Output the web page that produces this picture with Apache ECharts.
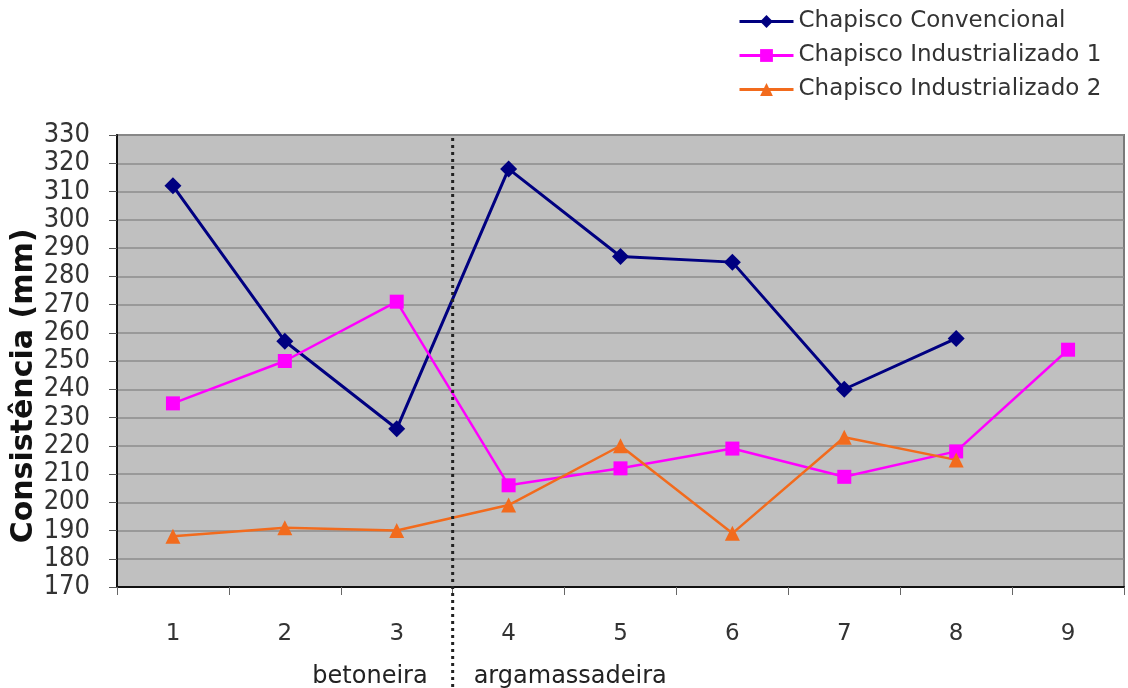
<!DOCTYPE html>
<html>
<head>
<meta charset="utf-8">
<script src="https://cdn.jsdelivr.net/npm/echarts@6/dist/echarts.min.js"></script>
<style>
  html, body { margin: 0; padding: 0; background: #fff; }
  #chart { width: 1128px; height: 688px; }
</style>
</head>
<body>
<div id="chart"></div>
<script>
// Ensaios 1..9; primeiros três na betoneira, restantes na argamassadeira
const categories = ['1', '2', '3', '4', '5', '6', '7', '8', '9'];
const convencional = [312, 257, 226, 318, 287, 285, 240, 258, null];
const industrializado1 = [235, 250, 271, 206, 212, 219, 209, 218, 254];
const industrializado2 = [188, 191, 190, 199, 220, 189, 223, 215, null];
const seriesNames = ['Chapisco Convencional', 'Chapisco Industrializado 1', 'Chapisco Industrializado 2'];
const yMin = 170, yMax = 330, yStep = 10;
const yTitle = 'Consistência (mm)';
const groupLabels = ['betoneira', 'argamassadeira'];

const chart = echarts.init(document.getElementById('chart'));
const sans = 'DejaVu Sans';

const option = {
  animation: false,
  backgroundColor: '#ffffff',
  legend: {
    orient: 'vertical',
    left: 733,
    top: 4,
    itemWidth: 54,
    itemHeight: 16,
    itemGap: 9,
    lineStyle: { width: 3 },
    textStyle: { fontFamily: sans, fontSize: 23, lineHeight: 25, color: '#333' },
    data: seriesNames
  },
  grid: {
    left: 117, right: 4, top: 135, bottom: 101,
    show: true,
    backgroundColor: '#c0c0c0',
    borderColor: '#7a7a7a',
    borderWidth: 2
  },
  xAxis: {
    type: 'category',
    data: categories,
    boundaryGap: true,
    axisLine: { lineStyle: { color: '#111', width: 2 } },
    axisTick: { show: true, inside: false, length: 8, lineStyle: { color: '#666', width: 1 } },
    axisLabel: { margin: 36, fontFamily: sans, fontSize: 23, color: '#333' },
    splitLine: { show: false }
  },
  yAxis: {
    type: 'value',
    min: yMin, max: yMax, interval: yStep,
    axisLine: { show: true, lineStyle: { color: '#111', width: 2 } },
    axisTick: { show: true, inside: false, length: 8, lineStyle: { color: '#555', width: 1 } },
    axisLabel: { margin: 27, fontFamily: "'Liberation Sans Narrow', 'DejaVu Sans Condensed', 'Liberation Sans'", fontSize: 27, color: '#333' },
    splitLine: { show: true, lineStyle: { color: '#8c8c8c', width: 1.5 } }
  },
  series: [
    {
      name: seriesNames[0], type: 'line', data: convencional,
      symbol: 'diamond', symbolSize: 17,
      lineStyle: { color: '#000080', width: 3 },
      itemStyle: { color: '#000080' }
    },
    {
      name: seriesNames[1], type: 'line', data: industrializado1,
      symbol: 'rect', symbolSize: 14,
      lineStyle: { color: '#ff00ff', width: 2.5 },
      itemStyle: { color: '#ff00ff' }
    },
    {
      name: seriesNames[2], type: 'line', data: industrializado2,
      symbol: 'triangle', symbolSize: 15,
      lineStyle: { color: '#f26b1d', width: 2.5 },
      itemStyle: { color: '#f26b1d' }
    }
  ]
};
chart.setOption(option);

// Divisória entre os ensaios da betoneira (1-3) e da argamassadeira (4-9)
const x3 = chart.convertToPixel({ xAxisIndex: 0 }, '3');
const x4 = chart.convertToPixel({ xAxisIndex: 0 }, '4');
const xDiv = (x3 + x4) / 2;
const yTop = chart.convertToPixel({ yAxisIndex: 0 }, yMax);
const yBottom = chart.convertToPixel({ yAxisIndex: 0 }, yMin);

chart.setOption({
  graphic: [
    {
      type: 'text', z: 100,
      x: 24, y: (yTop + yBottom) / 2 + 25, rotation: Math.PI / 2,
      style: { text: yTitle, align: 'center', verticalAlign: 'middle', font: 'bold 30px "DejaVu Sans"', fill: '#111' }
    },
    {
      type: 'line', z: 100,
      shape: { x1: xDiv, y1: yTop + 3, x2: xDiv, y2: 688 },
      style: { stroke: '#222', lineWidth: 3, lineDash: [3, 4] }
    },
    {
      type: 'text', z: 100,
      x: xDiv - 25, y: 677,
      style: { text: groupLabels[0], align: 'right', verticalAlign: 'middle', font: '24px "DejaVu Sans"', fill: '#222' }
    },
    {
      type: 'text', z: 100,
      x: xDiv + 21, y: 677,
      style: { text: groupLabels[1], align: 'left', verticalAlign: 'middle', font: '24px "DejaVu Sans"', fill: '#222' }
    }
  ]
});
</script>
</body>
</html>
